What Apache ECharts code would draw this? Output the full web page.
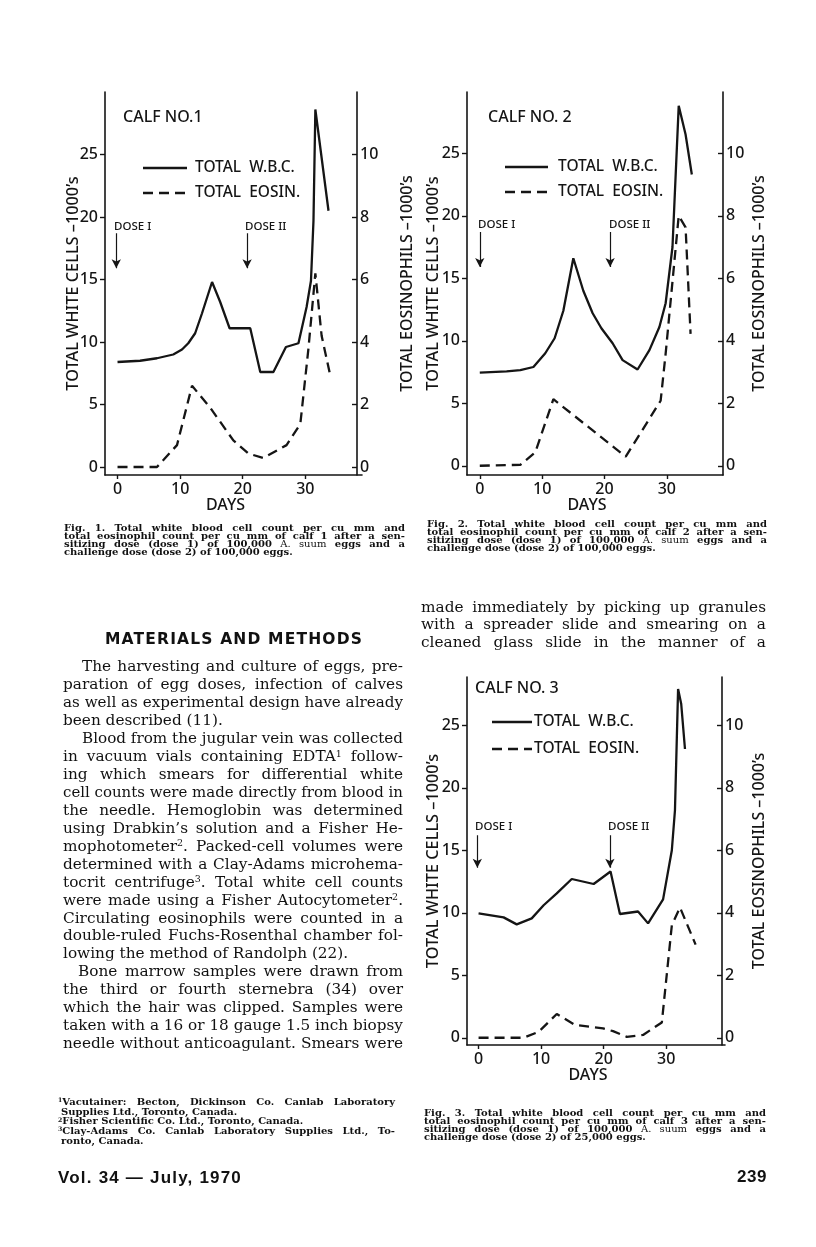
<!DOCTYPE html>
<html><head><meta charset="utf-8">
<script src="https://cdn.jsdelivr.net/npm/echarts@6/dist/echarts.min.js"></script>
<style>
html,body{margin:0;padding:0;background:#fff;}
body{width:816px;height:1247px;position:relative;overflow:hidden;}
#chart{position:absolute;left:0;top:0;width:816px;height:1247px;}
#txt{position:absolute;left:0;top:0;width:816px;height:1247px;pointer-events:none;}
.ln{position:absolute;white-space:nowrap;color:#111;}
.sup{font-size:0.62em;position:relative;top:-0.45em;}
.nb{font-weight:normal;}
</style></head>
<body>
<div id="chart"></div>
<div id="txt"></div>
<script>
// ---------------- DATA ----------------
const xTicks = [0, 10, 20, 30];
const wbcTicks = [0, 5, 10, 15, 20, 25];
const eosTicks = [0, 2, 4, 6, 8, 10];

// Calf 1
const days1WBC = [0, 3.6, 6.3, 8.9, 10.3, 11.3, 12.4, 13.5, 15.1, 16.4, 17.9, 21.2, 22.8, 24.9, 26.9, 28.9, 30.2, 30.9, 31.3, 31.6, 33.7];
const wbc1     = [8.4, 8.5, 8.7, 9.0, 9.4, 9.9, 10.7, 12.3, 14.8, 13.2, 11.1, 11.1, 7.6, 7.6, 9.6, 9.9, 12.8, 14.9, 19.7, 28.6, 20.5];
const days1Eos = [0, 6.3, 9.5, 11.9, 14.8, 18.5, 20.9, 23.3, 27, 29.2, 30.5, 31.6, 32.6, 33.9];
const eos1     = [0, 0, 0.7, 2.6, 1.9, 0.85, 0.43, 0.29, 0.7, 1.38, 3.8, 6.2, 4.2, 3.0];
const dose1Days = [-0.2, 20.7];

// Calf 2
const days2WBC = [0, 4.3, 6.5, 8.6, 10.5, 12, 13.4, 15, 16.6, 18.1, 19.5, 21.3, 22.9, 25.3, 27.2, 28.8, 29.8, 30.9, 31.9, 33, 34];
const wbc2     = [7.45, 7.55, 7.65, 7.9, 9.0, 10.2, 12.4, 16.6, 14.0, 12.2, 11.0, 9.8, 8.45, 7.7, 9.25, 11.1, 13.0, 17.5, 28.8, 26.5, 23.3];
const days2Eos = [0, 6.5, 8.9, 11.8, 23.4, 29, 29.8, 31.9, 33, 33.8];
const eos2     = [0, 0.03, 0.43, 2.13, 0.29, 2.08, 3.58, 8.0, 7.63, 4.22];
const dose2Days = [0, 20.9];

// Calf 3
const days3WBC = [0, 4, 6.1, 8.5, 10.4, 12.5, 14.9, 18.4, 21.1, 22.6, 25.5, 27.1, 29.5, 30.9, 31.4, 31.9, 32.4, 33];
const wbc3     = [9.95, 9.63, 9.07, 9.55, 10.6, 11.55, 12.7, 12.3, 13.3, 9.9, 10.1, 9.15, 11.07, 15.0, 18.2, 27.9, 26.7, 23.1];
const days3Eos = [0, 7.2, 9.6, 12.5, 15.4, 19.9, 21.5, 23.7, 26.3, 29.3, 30.9, 32.2, 34.7];
const eos3     = [0, 0, 0.19, 0.76, 0.41, 0.3, 0.21, 0.03, 0.09, 0.49, 3.6, 4.17, 2.98];
const dose3Days = [-0.2, 21.0];

// --------------- LAYOUT ---------------
const INK = '#151515';
const SANS = "'Noto Sans', 'DejaVu Sans', sans-serif";
const FW = 500;
const panels = [
  {grid:{left:105, top:92, width:257, height:383}, x:[-2, 39.05], yl:[-0.64, 30], yr:[-0.256, 12], rOff:-5, lGap:24, rGap:42,
   days:days1WBC, wbc:wbc1, eDays:days1Eos, eos:eos1, dose:dose1Days, arrow:[18.7, 15.9],
   calf:{x:123, y:117, t:'CALF NO.1'}, leg:{x1:143, x2:187, y1:168, y2:193, tx:195},
   doseTxt:[{x:114, y:227, t:'DOSE I'}, {x:245, y:227, t:'DOSE II'}]},
  {grid:{left:467, top:92, width:256, height:383}, x:[-2.05, 39], yl:[-0.74, 29.9], yr:[-0.296, 11.96], rOff:0, lGap:26, rGap:28,
   days:days2WBC, wbc:wbc2, eDays:days2Eos, eos:eos2, dose:dose2Days, arrow:[18.7, 15.9],
   calf:{x:488, y:117, t:'CALF NO. 2'}, leg:{x1:505, x2:548, y1:167, y2:192, tx:558},
   doseTxt:[{x:478, y:225, t:'DOSE I'}, {x:609, y:225, t:'DOSE II'}]},
  {grid:{left:467, top:677, width:258, height:368}, x:[-1.85, 39.4], yl:[-0.58, 28.86], yr:[-0.232, 11.544], rOff:-3, lGap:26, rGap:29,
   days:days3WBC, wbc:wbc3, eDays:days3Eos, eos:eos3, dose:dose3Days, arrow:[16.2, 13.6],
   calf:{x:475, y:688, t:'CALF NO. 3'}, leg:{x1:492, x2:532, y1:722, y2:749, tx:534},
   doseTxt:[{x:475, y:827, t:'DOSE I'}, {x:608, y:827, t:'DOSE II'}]}
];

const zip = (a, b) => a.map((v, i) => [v, b[i]]);
const option = {animation:false, backgroundColor:'#fff', grid:[], xAxis:[], yAxis:[], series:[], graphic:[]};

panels.forEach((p, i) => {
  option.grid.push(Object.assign({containLabel:false}, p.grid));
  const axLine = {show:true, onZero:false, lineStyle:{color:INK, width:1.6}};
  const lbl = {fontFamily:SANS, fontSize:16, fontWeight:FW, color:INK};
  option.xAxis.push({
    type:'value', gridIndex:i, min:p.x[0], max:p.x[1],
    name:'DAYS', nameLocation:'middle', nameGap:19,
    nameTextStyle:Object.assign({padding:[0,16,0,0]}, lbl),
    axisLine:axLine, splitLine:{show:false},
    axisTick:{show:true, length:4, lineStyle:{color:INK, width:1.4}, customValues:xTicks},
    axisLabel:Object.assign({customValues:xTicks, margin:6}, lbl)
  });
  option.yAxis.push({
    type:'value', gridIndex:i, position:'left', min:p.yl[0], max:p.yl[1],
    name:'TOTAL WHITE CELLS \u20131000\u2019s', nameLocation:'middle', nameRotate:90, nameGap:p.lGap,
    nameMoveOverlap:false,
    nameTextStyle:Object.assign({}, lbl, {fontSize:16.3}),
    axisLine:axLine, splitLine:{show:false},
    axisTick:{show:true, length:5, lineStyle:{color:INK, width:1.4}, customValues:wbcTicks},
    axisLabel:Object.assign({customValues:wbcTicks, margin:7}, lbl)
  });
  option.yAxis.push({
    type:'value', gridIndex:i, position:'right', offset:p.rOff, min:p.yr[0], max:p.yr[1],
    name:'TOTAL EOSINOPHILS \u20131000\u2019s', nameLocation:'middle', nameRotate:90, nameGap:p.rGap,
    nameTextStyle:Object.assign({}, lbl),
    axisLine:axLine, splitLine:{show:false},
    axisTick:{show:true, inside:true, length:5, lineStyle:{color:INK, width:1.4}, customValues:eosTicks},
    axisLabel:Object.assign({customValues:eosTicks, margin:3}, lbl)
  });
  option.series.push({
    type:'line', name:'TOTAL W.B.C.', xAxisIndex:i, yAxisIndex:2*i, data:zip(p.days, p.wbc),
    symbol:'none', clip:false, lineStyle:{color:INK, width:2.3}, z:3,
    markLine:{silent:true, symbol:['none','arrow'], symbolSize:[7,9], label:{show:false},
      lineStyle:{color:INK, width:1.2, type:'solid'},
      emphasis:{disabled:true},
      data:p.dose.map(d => [{coord:[d, p.arrow[0]]}, {coord:[d, p.arrow[1]]}])}
  });
  option.series.push({
    type:'line', name:'TOTAL EOSIN.', xAxisIndex:i, yAxisIndex:2*i+1, data:zip(p.eDays, p.eos),
    symbol:'none', clip:false, lineStyle:{color:INK, width:2.3, type:[10,6]}, z:3
  });
  // annotations
  const g = option.graphic;
  g.push({type:'text', x:p.calf.x, y:p.calf.y, style:{text:p.calf.t, fill:INK, font:`${FW} 16px ${SANS}`, verticalAlign:'middle'}});
  g.push({type:'line', shape:{x1:p.leg.x1, y1:p.leg.y1, x2:p.leg.x2, y2:p.leg.y1}, style:{stroke:INK, lineWidth:2.3}});
  g.push({type:'line', shape:{x1:p.leg.x1, y1:p.leg.y2, x2:p.leg.x2, y2:p.leg.y2}, style:{stroke:INK, lineWidth:2.3, lineDash:[10,6]}});
  g.push({type:'text', x:p.leg.tx, y:p.leg.y1, style:{text:'TOTAL  W.B.C.', fill:INK, font:`${FW} 15.5px ${SANS}`, verticalAlign:'middle'}});
  g.push({type:'text', x:p.leg.tx, y:p.leg.y2, style:{text:'TOTAL  EOSIN.', fill:INK, font:`${FW} 15.5px ${SANS}`, verticalAlign:'middle'}});
  p.doseTxt.forEach(d => g.push({type:'text', x:d.x, y:d.y, style:{text:d.t, fill:INK, font:`${FW} 11.5px ${SANS}`, verticalAlign:'middle'}}));
});

const chart = echarts.init(document.getElementById('chart'), null, {renderer:'canvas'});
chart.setOption(option);

// --------------- PAGE TEXT ---------------
const T = document.getElementById('txt');
function block(lines, o) {
  lines.forEach((ln, i) => {
    const d = document.createElement('div');
    d.className = 'ln';
    const ind = ln.ind || 0;
    d.style.font = o.font;
    if (o.ls) d.style.letterSpacing = o.ls + 'px';
    d.style.lineHeight = o.lh + 'px';
    d.style.left = (o.x + ind) + 'px';
    d.style.top = (o.y0 + i * o.step - o.lh / 2) + 'px';
    d.innerHTML = ln.t;
    T.appendChild(d);
    if (ln.j || ln.w) {
      const w = (ln.w || o.width) - ind;
      const nat = d.getBoundingClientRect().width;
      const sp = (d.textContent.match(/ /g) || []).length;
      if (ln.letter) {
        const n = d.textContent.length;
        d.style.letterSpacing = ((o.ls || 0) + (w - nat) / n) + 'px';
      } else if (nat < w && sp) {
        d.style.wordSpacing = ((w - nat) / sp) + 'px';
      } else if (nat > w) {
        d.style.transformOrigin = '0 0';
        d.style.transform = `scaleX(${w / nat})`;
      }
    }
  });
}
const J = (t, ind) => ({t, j:true, ind});
const L = (t, ind) => ({t, j:false, ind});
const S = n => `<span class="sup">${n}</span>`;

const capFont = "bold 10px 'DejaVu Serif', serif";
const capLines = (n, eggs) => [
  J(`Fig. ${n}. Total white blood cell count per cu mm and`),
  J(`total eosinophil count per cu mm of calf ${n} after a sen-`),
  J(`sitizing dose (dose 1) of 100,000 <span class="nb">A. suum</span> eggs and a`),
  L(`challenge dose (dose 2) of ${eggs} eggs.`)
];
block(capLines(1, '100,000'), {x:64, y0:527, step:8.2, width:341, font:capFont, lh:9});
block(capLines(2, '100,000'), {x:427, y0:523, step:8, width:340, font:capFont, lh:9});
block(capLines(3, '25,000'),  {x:424, y0:1112, step:8.1, width:342, font:capFont, lh:9});

const bodyFont = "15.3px 'DejaVu Serif', serif";
block([
  J('The harvesting and culture of eggs, pre-', 19),
  J('paration of egg doses, infection of calves'),
  J('as well as experimental design have already'),
  L('been described (11).'),
  J('Blood from the jugular vein was collected', 19),
  J(`in vacuum vials containing EDTA${S(1)} follow-`),
  J('ing which smears for differential white'),
  J('cell counts were made directly from blood in'),
  J('the needle. Hemoglobin was determined'),
  J('using Drabkin\u2019s solution and a Fisher He-'),
  J(`mophotometer${S(2)}. Packed-cell volumes were`),
  J('determined with a Clay-Adams microhema-'),
  J(`tocrit centrifuge${S(3)}. Total white cell counts`),
  J(`were made using a Fisher Autocytometer${S(2)}.`),
  J('Circulating eosinophils were counted in a'),
  J('double-ruled Fuchs-Rosenthal chamber fol-'),
  L('lowing the method of Randolph (22).'),
  J('Bone marrow samples were drawn from', 15),
  J('the third or fourth sternebra (34) over'),
  J('which the hair was clipped. Samples were'),
  J('taken with a 16 or 18 gauge 1.5 inch biopsy'),
  J('needle without anticoagulant. Smears were')
], {x:63, y0:666.7, step:17.95, width:340, font:bodyFont, lh:17});

block([
  J('made immediately by picking up granules'),
  J('with a spreader slide and smearing on a'),
  J('cleaned glass slide in the manner of a')
], {x:421, y0:607, step:17.95, width:345, font:bodyFont, lh:17});

block([{t:'MATERIALS AND METHODS', w:258, letter:true}],
  {x:105, y0:639, step:0, font:"bold 15.5px 'DejaVu Sans', sans-serif", lh:18});

const fnFont = "bold 10px 'DejaVu Serif', serif";
block([
  J(`${S(1)}Vacutainer: Becton, Dickinson Co. Canlab Laboratory`),
  L('Supplies Ltd., Toronto, Canada.', 3),
  L(`${S(2)}Fisher Scientific Co. Ltd., Toronto, Canada.`),
  J(`${S(3)}Clay-Adams Co. Canlab Laboratory Supplies Ltd., To-`),
  L('ronto, Canada.', 3)
], {x:58, y0:1101.7, step:9.8, width:337, font:fnFont, lh:10});

block([{t:'Vol. 34 \u2014 July, 1970', w:184, letter:true}],
  {x:58, y0:1178, step:0, font:"bold 17px 'Liberation Sans', sans-serif", lh:20});
block([{t:'239', w:30, letter:true}],
  {x:737, y0:1177, step:0, font:"bold 17px 'Liberation Sans', sans-serif", lh:20});
</script>
</body></html>
